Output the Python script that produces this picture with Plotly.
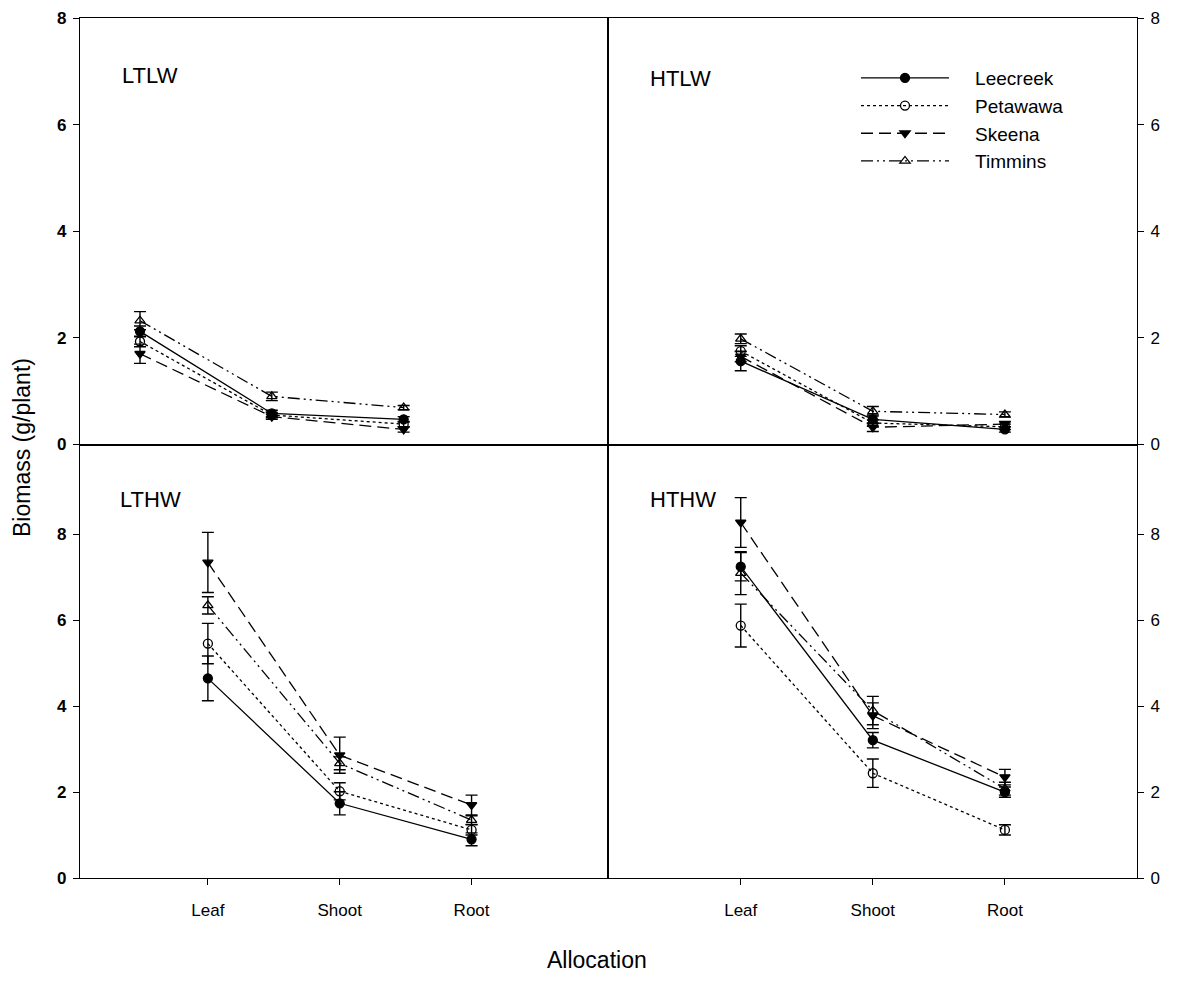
import plotly.graph_objects as go

categories = ["Leaf", "Shoot", "Root"]
populations = ["Leecreek", "Petawawa", "Skeena", "Timmins"]
panel_names = ["LTLW", "HTLW", "LTHW", "HTHW"]
y_ticks = [0, 2, 4, 6, 8]

# means: rows = populations (Leecreek, Petawawa, Skeena, Timmins), cols = categories
ltlw_means = [[2.12, 0.58, 0.47], [1.93, 0.55, 0.38], [1.70, 0.52, 0.28], [2.32, 0.90, 0.69]]
ltlw_errs = [[0.10, 0.06, 0.05], [0.10, 0.05, 0.05], [0.18, 0.05, 0.05], [0.17, 0.08, 0.04]]
htlw_means = [[1.56, 0.47, 0.28], [1.75, 0.40, 0.33], [1.65, 0.32, 0.38], [1.98, 0.62, 0.56]]
htlw_errs = [[0.18, 0.08, 0.05], [0.10, 0.06, 0.05], [0.10, 0.08, 0.05], [0.09, 0.09, 0.05]]
lthw_means = [[4.65, 1.74, 0.90], [5.46, 2.02, 1.12], [7.35, 2.86, 1.70], [6.35, 2.67, 1.35]]
lthw_errs = [[0.52, 0.27, 0.15], [0.47, 0.20, 0.12], [0.70, 0.42, 0.23], [0.20, 0.15, 0.10]]
hthw_means = [[7.25, 3.21, 2.00], [5.88, 2.44, 1.12], [8.28, 3.78, 2.35], [7.10, 3.90, 2.08]]
hthw_errs = [[0.33, 0.18, 0.12], [0.50, 0.33, 0.12], [0.58, 0.30, 0.18], [0.50, 0.33, 0.15]]

W, H = 1177, 981
FONT = "Liberation Sans, Arial, sans-serif"
LW = 1.3

styles = {
    "Leecreek": dict(dash="solid", symbol="circle"),
    "Petawawa": dict(dash="dot", symbol="circle-open"),
    "Skeena": dict(dash="12px,6px", symbol="triangle-down"),
    "Timmins": dict(dash="12px,4px,2px,4px,2px,4px", symbol="triangle-up-open"),
}

x_pos = [1, 2, 3]

panels = [
    (ltlw_means, ltlw_errs, "x3", "y3"),
    (htlw_means, htlw_errs, "x4", "y4"),
    (lthw_means, lthw_errs, "x", "y"),
    (hthw_means, hthw_errs, "x2", "y2"),
]

fig = go.Figure()
for pi, (means, errs, xa, ya) in enumerate(panels):
    for si, pop in enumerate(populations):
        st = styles[pop]
        fig.add_trace(go.Scatter(
            x=x_pos, y=means[si], xaxis=xa, yaxis=ya,
            mode="lines+markers", name="\u00a0\u00a0\u00a0\u00a0" + pop, showlegend=(pi == 0),
            line=dict(color="black", width=1.3, dash=st["dash"]),
            marker=dict(symbol=st["symbol"], size=9, color="black",
                        line=dict(color="black", width=1.3)),
            error_y=dict(type="data", array=errs[si], visible=True,
                         color="black", thickness=1.4, width=6),
        ))

def px_x(p):
    return p / W

def px_y(p):
    return 1 - p / H

half = LW / 2
xl = [px_x(80), px_x(608 - half)]
xr = [px_x(608 + half), px_x(1137)]
yt = [px_y(445 - half), px_y(18)]
yb = [px_y(878), px_y(445 + half)]

axis_common = dict(showline=True, linecolor="black", linewidth=LW, mirror=True,
                   showgrid=False, zeroline=False, automargin=False)

xtick = dict(tickmode="array", tickvals=x_pos, ticktext=categories,
             ticks="outside", ticklen=6, tickwidth=1, tickcolor="black",
             ticklabelstandoff=10, tickfont=dict(family=FONT, size=17, color="black"))

ytick = dict(tickmode="array", tickvals=y_ticks, ticks="outside", ticklen=6,
             tickwidth=1, tickcolor="black", ticklabelstandoff=3)
yfont_left = dict(family=FONT, size=17, color="black", weight="bold")
yfont_right = dict(family=FONT, size=17, color="black")

fig.update_layout(
    template="none",
    width=W, height=H,
    margin=dict(l=0, r=0, t=0, b=0, pad=0),
    plot_bgcolor="white", paper_bgcolor="white",
    font=dict(family=FONT, color="black"),
    showlegend=True,
    xaxis=dict(domain=xl, anchor="y", range=[0.03, 4.03], **xtick, **axis_common),
    xaxis2=dict(domain=xr, anchor="y2", range=[0.0, 4.0], **xtick, **axis_common),
    xaxis3=dict(domain=xl, anchor="y3", range=[0.545, 4.545], showticklabels=False, ticks="", **axis_common),
    xaxis4=dict(domain=xr, anchor="y4", range=[0.0, 4.0], showticklabels=False, ticks="", **axis_common),
    yaxis=dict(domain=yb, anchor="x", range=[0, 10.07], side="left", tickfont=yfont_left, **ytick, **axis_common),
    yaxis2=dict(domain=yb, anchor="x2", range=[0, 10.07], side="right", tickfont=yfont_right, **ytick, **axis_common),
    yaxis3=dict(domain=yt, anchor="x3", range=[0, 8], side="left", tickfont=yfont_left, **ytick, **axis_common),
    yaxis4=dict(domain=yt, anchor="x4", range=[0, 8], side="right", tickfont=yfont_right, **ytick, **axis_common),
    legend=dict(x=px_x(856), y=px_y(59), xanchor="left", yanchor="top",
                font=dict(family=FONT, size=19, color="black"),
                bgcolor="rgba(0,0,0,0)", itemwidth=88, tracegroupgap=0,
                borderwidth=0),
)

label_pos = {"LTLW": (120, 75), "HTLW": (648, 78), "LTHW": (118, 500), "HTHW": (648, 500)}
for name in panel_names:
    x0, y0 = label_pos[name]
    fig.add_annotation(x=px_x(x0), y=px_y(y0), xref="paper", yref="paper",
                       text=name, showarrow=False, xanchor="left", yanchor="middle",
                       font=dict(family=FONT, size=22, color="black"))

fig.add_annotation(x=px_x(22), y=px_y(448), xref="paper", yref="paper",
                   text="Biomass (g/plant)", showarrow=False, textangle=-90,
                   xanchor="center", yanchor="middle",
                   font=dict(family=FONT, size=23, color="black"))
fig.add_annotation(x=px_x(597), y=px_y(960), xref="paper", yref="paper",
                   text="Allocation", showarrow=False,
                   xanchor="center", yanchor="middle",
                   font=dict(family=FONT, size=23, color="black"))

fig.write_html("out.html", config={"displayModeBar": False},
               post_script="document.body.style.margin='0';document.body.style.padding='0';document.body.style.overflow='hidden';")
